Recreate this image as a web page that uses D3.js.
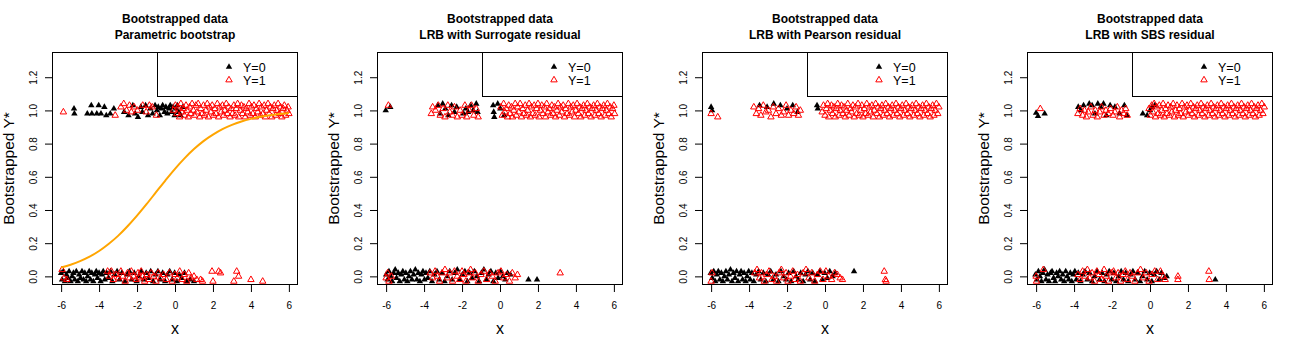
<!DOCTYPE html>
<html><head><meta charset="utf-8">
<script src="https://cdn.jsdelivr.net/npm/d3@7"></script>
<style>
body{margin:0;background:#fff}
svg{display:block}
text{font-family:"Liberation Sans",Arial,Helvetica,sans-serif}
</style>
</head><body>
<svg id="chart" width="1300" height="350"></svg>
<script>
// ---------- data ----------
const titleLine1 = "Bootstrapped data";
const panelSubtitles = ["Parametric bootstrap","LRB with Surrogate residual","LRB with Pearson residual","LRB with SBS residual"];
const xTicks = [-6,-4,-2,0,2,4,6];
const xTickLabels = ["-6","-4","-2","0","2","4","6"];
const yTicks = [0,0.2,0.4,0.6,0.8,1.0,1.2];
const yTickLabels = ["0.0","0.2","0.4","0.6","0.8","1.0","1.2"];
const legendLabels = ["Y=0","Y=1"];
const xLabel = "x";
const yLabel = "Bootstrapped Y*";

// fitted probability curve (panel 1)
const curveX = [-6,-5.5,-5,-4.5,-4,-3.5,-3,-2.5,-2,-1.5,-1,-0.5,0,0.5,1,1.5,2,2.5,3,3.5,4,4.5,5,5.5,6];
const curveY = [0.054,0.070,0.092,0.119,0.153,0.195,0.244,0.302,0.366,0.435,0.507,0.579,0.648,0.711,0.767,0.815,0.854,0.887,0.913,0.933,0.949,0.962,0.971,0.978,0.984];

// Panel 1: Parametric bootstrap  [x, jittered Y*]
const p1Y0 = [
[-5.32,1.01],[-5.30,0.98],[-4.62,0.98],[-4.41,1.03],[-4.38,0.98],[-4.12,0.98],[-4.02,1.03],[-3.90,0.98],[-3.72,1.02],[-3.62,0.97],[-3.41,0.98],[-3.22,1.01],
[-2.68,0.99],[-2.45,0.97],[-2.22,1.03],[-2.10,0.98],[-1.95,0.96],[-1.80,1.02],[-1.72,0.99],[-1.55,1.03],[-1.42,0.97],[-1.30,1.01],[-1.18,0.98],[-1.05,1.03],
[-0.95,1.00],[-0.88,1.02],[-0.80,0.97],[-0.72,1.01],[-0.65,1.03],[-0.55,0.99],[-0.48,1.02],[-0.40,0.98],[-0.32,1.01],[-0.25,1.03],[-0.18,0.99],[-0.10,1.02],[-0.02,0.97],[0.05,1.01],[0.12,1.03],[0.20,0.99],[0.30,0.97],[0.42,1.02],
[-6.00,0.02],[-5.95,-0.02],[-5.88,0.03],[-5.80,-0.03],[-5.72,0.01],[-5.65,-0.01],[-5.58,0.03],[-5.50,-0.03],[-5.42,0.00],[-5.35,0.02],[-5.28,-0.02],[-5.20,0.03],[-5.12,-0.03],[-5.05,0.01],[-4.98,-0.01],[-4.90,0.03],[-4.82,-0.02],[-4.75,0.02],[-4.68,-0.03],[-4.60,0.00],[-4.52,0.03],[-4.45,-0.02],[-4.38,0.02],[-4.30,-0.03],[-4.22,0.01],[-4.15,0.03],[-4.08,-0.01],[-4.00,0.02],[-3.92,-0.03],[-3.85,0.01],[-3.78,0.03],[-3.70,-0.02],[-3.60,0.02],[-3.50,-0.01],[-3.40,0.03],[-3.30,-0.03],[-3.18,0.01],[-3.05,0.03],[-2.92,-0.02],[-2.80,0.02],[-2.65,-0.03],[-2.52,0.01],[-2.40,0.03],[-2.28,-0.02],[-2.15,0.02],[-2.02,-0.03],[-1.90,0.00],[-1.78,0.03],[-1.65,-0.02],[-1.52,0.02],[-1.40,-0.01],[-1.28,0.03],[-1.15,-0.03],[-1.02,0.01],[-0.90,0.03],[-0.78,-0.02],[-0.65,0.02],[-0.52,-0.03],[-0.40,0.01],[-0.28,0.03],[-0.15,-0.02],[-0.02,0.02],[0.10,-0.03],[0.22,0.01],[0.35,-0.01],[0.50,0.02],[0.62,-0.03],[0.80,-0.02],[1.00,-0.03]
];
const p1Y1 = [
[-5.88,0.99],[-3.15,0.97],[-2.85,1.02],[-2.70,1.04],[-2.55,1.00],[-2.40,1.03],[-2.30,0.99],[-2.15,1.02],[-1.98,1.00],[-1.70,1.03],[-1.52,0.99],[-1.35,1.03],[-1.20,1.02],[-0.98,0.97],
[-0.08,1.00],[0.02,1.03],[0.10,0.98],[0.16,1.02],[0.24,0.96],[0.31,1.04],[0.37,0.99],[0.44,1.01],[0.50,0.97],[0.58,1.03],[0.63,1.00],[0.70,0.96],[0.77,1.02],[0.83,0.98],[0.90,1.04],[0.97,1.00],[1.03,0.97],[1.10,1.03],[1.16,0.99],[1.22,1.04],[1.30,0.96],[1.36,1.01],[1.43,0.98],[1.50,1.03],[1.56,0.97],[1.63,1.00],[1.70,1.04],[1.76,0.96],[1.83,1.02],[1.90,0.99],[1.96,1.03],[2.03,0.97],[2.10,1.01],[2.16,0.98],[2.23,1.04],[2.30,0.96],[2.36,1.02],[2.43,0.99],[2.50,1.03],[2.56,0.97],[2.63,1.00],[2.70,1.04],[2.76,0.98],[2.83,1.02],[2.90,0.96],[2.96,1.01],[3.03,0.98],[3.10,1.03],[3.16,0.97],[3.23,1.01],[3.30,1.04],[3.36,0.96],[3.43,1.00],[3.50,1.03],[3.56,0.98],[3.63,1.02],[3.70,0.96],[3.76,1.01],[3.83,0.99],[3.90,1.04],[3.96,0.97],[4.03,1.02],[4.10,0.98],[4.16,1.03],[4.23,0.96],[4.30,1.01],[4.36,0.99],[4.43,1.04],[4.50,0.97],[4.56,1.02],[4.63,0.98],[4.70,1.03],[4.76,0.96],[4.83,1.00],[4.90,1.04],[4.96,0.98],[5.03,1.02],[5.10,0.96],[5.16,1.01],[5.23,1.03],[5.30,0.97],[5.36,1.00],[5.43,1.04],[5.50,0.98],[5.56,1.02],[5.63,0.96],[5.70,1.01],[5.76,1.03],[5.83,0.97],[5.90,1.00],[5.96,1.02],[6.00,0.98],
[-5.95,0.04],[-5.85,-0.01],[-5.70,-0.02],
[-3.55,0.03],[-3.45,0.00],[-3.35,0.03],[-3.25,-0.02],[-3.10,0.01],[-2.98,-0.01],[-2.85,0.03],[-2.75,0.00],[-2.62,-0.03],[-2.50,0.02],[-2.40,-0.01],[-2.30,0.03],[-2.18,0.00],[-2.05,-0.02],[-1.95,0.02],[-1.88,-0.01],[-1.78,0.03],[-1.70,0.00],[-1.60,-0.03],[-1.48,0.01],[-1.38,-0.02],[-1.25,0.02],[-1.12,0.00],[-1.00,-0.03],[-0.88,0.02],[-0.75,-0.01],[-0.60,0.01],[-0.45,-0.02],[-0.30,0.02],[-0.15,-0.03],[0.00,0.01],[0.12,-0.01],[0.25,0.03],[0.38,-0.02],[0.50,0.01],[0.62,-0.03],[0.72,0.02],[0.85,-0.01],[1.00,0.00],[1.15,-0.02],[1.35,-0.02],[1.45,-0.03],
[1.95,0.03],[2.00,-0.03],[2.30,0.03],[2.40,0.02],[3.10,-0.03],[3.25,0.03],[3.35,0.00],[4.00,-0.02],[4.62,-0.03]
];

// Panel 2: LRB with Surrogate residual
const p2Y0 = [
[-6.02,1.00],[-5.78,1.02],[-3.28,1.03],[-3.15,0.98],[-3.02,1.04],[-2.88,1.01],[-2.72,0.97],[-2.55,1.03],[-2.40,0.99],[-2.28,1.02],[-1.92,0.98],[-1.80,1.01],[-1.68,0.99],[-1.55,1.03],[-1.42,1.00],[-1.25,1.04],[-1.18,0.99],[-0.36,1.03],[-0.33,0.99],[-0.30,0.96],[-0.12,1.04],[0.02,1.01],[0.22,0.97],
[-6.00,0.01],[-5.92,-0.02],[-5.85,0.03],[-5.76,0.00],[-5.68,-0.03],[-5.60,0.02],[-5.52,0.04],[-5.45,-0.01],[-5.36,0.02],[-5.28,-0.03],[-5.20,0.01],[-5.12,0.03],[-5.04,-0.02],[-4.96,0.02],[-4.88,-0.03],[-4.80,0.00],[-4.72,0.03],[-4.64,-0.02],[-4.55,0.01],[-4.46,0.04],[-4.38,-0.02],[-4.30,0.02],[-4.22,-0.03],[-4.14,0.01],[-4.06,0.03],[-3.98,-0.02],[-3.90,0.02],[-3.80,-0.01],[-3.70,0.03],[-3.58,-0.03],[-3.45,0.01],[-3.32,0.03],[-3.20,-0.02],[-3.05,0.02],[-2.92,-0.03],[-2.78,0.00],[-2.65,0.03],[-2.52,-0.02],[-2.38,0.02],[-2.25,0.04],[-2.12,-0.02],[-1.98,0.01],[-1.85,0.03],[-1.72,-0.03],[-1.60,0.02],[-1.48,-0.01],[-1.35,0.03],[-1.22,0.00],[-1.10,-0.03],[-0.98,0.02],[-0.85,0.04],[-0.72,-0.02],[-0.60,0.01],[-0.48,0.03],[-0.35,-0.03],[-0.22,0.02],[-0.10,-0.01],[0.02,0.03],[0.15,0.00],[0.28,-0.02],[0.40,0.02],[0.55,0.01],[1.50,-0.02],[1.95,-0.02]
];
const p2Y1 = [
[-5.88,1.03],[-3.62,0.98],[-3.55,1.02],[-3.40,1.00],[-3.25,1.03],[-3.15,0.97],[-3.00,1.01],[-2.90,0.96],[-2.75,1.03],[-2.65,0.99],[-2.50,0.97],[-2.40,1.02],[-2.25,0.96],[-2.10,1.00],[-2.00,0.97],[-1.85,1.03],[-1.75,0.96],[-1.62,1.00],[-1.50,1.03],[-1.38,0.97],[-1.25,1.01],[-1.15,0.96],
[0.05,1.02],[0.12,0.97],[0.19,1.04],[0.26,0.99],[0.33,1.01],[0.40,0.96],[0.46,1.03],[0.53,0.98],[0.60,1.02],[0.66,0.96],[0.73,1.00],[0.80,1.04],[0.86,0.97],[0.93,1.02],[1.00,0.99],[1.06,1.04],[1.13,0.96],[1.20,1.01],[1.26,0.98],[1.33,1.03],[1.40,0.97],[1.46,1.00],[1.53,1.04],[1.60,0.96],[1.66,1.02],[1.73,0.98],[1.80,1.03],[1.86,0.97],[1.93,1.01],[2.00,1.04],[2.06,0.96],[2.13,1.00],[2.20,1.03],[2.26,0.98],[2.33,1.02],[2.40,0.96],[2.46,1.04],[2.53,0.99],[2.60,1.01],[2.66,0.97],[2.73,1.03],[2.80,0.98],[2.86,1.02],[2.93,0.96],[3.00,1.00],[3.06,1.04],[3.13,0.97],[3.20,1.02],[3.26,0.99],[3.33,1.03],[3.40,0.96],[3.46,1.01],[3.53,0.98],[3.60,1.04],[3.66,0.97],[3.73,1.02],[3.80,0.99],[3.86,1.03],[3.93,0.96],[4.00,1.00],[4.06,1.04],[4.13,0.98],[4.20,1.02],[4.26,0.96],[4.33,1.01],[4.40,1.03],[4.46,0.97],[4.53,1.00],[4.60,1.04],[4.66,0.98],[4.73,1.02],[4.80,0.96],[4.86,1.01],[4.93,1.03],[5.00,0.97],[5.06,1.00],[5.13,1.04],[5.20,0.98],[5.26,1.02],[5.33,0.96],[5.40,1.01],[5.46,1.03],[5.53,0.97],[5.60,1.00],[5.66,1.04],[5.73,0.98],[5.80,1.02],[5.86,0.96],[5.93,1.01],[6.00,1.03],[6.04,0.98],
[-6.00,-0.01],[-5.92,0.02],[-5.85,-0.03],[-5.72,0.00],
[-3.68,0.02],[-3.55,-0.01],[-3.42,0.03],[-3.30,0.00],[-3.18,-0.03],[-3.05,0.02],[-2.90,0.04],[-2.78,-0.01],[-2.65,0.02],[-2.50,-0.03],[-2.40,0.03],[-2.25,0.00],[-2.12,-0.02],[-2.00,0.03],[-1.90,0.01],[-1.80,-0.03],[-1.68,0.02],[-1.55,0.04],[-1.45,-0.01],[-1.30,0.02],[-1.15,-0.03],[-1.00,0.01],[-0.85,0.03],[-0.70,-0.02],[-0.55,0.02],[-0.40,0.00],[-0.25,-0.03],[-0.10,0.02],[0.05,0.03],[0.20,-0.01],[0.35,0.01],[0.50,-0.03],[0.65,0.02],[0.80,-0.01],[0.92,0.01],[3.17,0.02]
];

// Panel 3: LRB with Pearson residual
const p3Y0 = [
[-6.00,1.02],[-5.95,1.00],[-3.45,1.03],[-3.05,1.02],[-2.70,1.04],[-2.35,1.03],[-2.00,1.01],[-1.70,1.03],[-1.45,0.99],[-0.42,1.03],[-0.38,1.01],
[-6.02,0.02],[-5.94,-0.01],[-5.86,0.03],[-5.78,-0.03],[-5.70,0.01],[-5.62,0.03],[-5.54,-0.02],[-5.46,0.02],[-5.38,-0.03],[-5.30,0.00],[-5.22,0.03],[-5.14,-0.02],[-5.06,0.01],[-4.98,0.04],[-4.90,-0.03],[-4.82,0.02],[-4.74,-0.01],[-4.66,0.03],[-4.58,-0.03],[-4.50,0.01],[-4.42,0.03],[-4.34,-0.02],[-4.26,0.02],[-4.18,-0.03],[-4.10,0.00],[-4.02,0.03],[-3.94,-0.02],[-3.85,0.02],[-3.75,-0.03],[-3.62,0.01],[-3.50,0.03],[-3.38,-0.02],[-3.25,0.02],[-3.12,-0.03],[-3.00,0.01],[-2.86,0.03],[-2.72,-0.02],[-2.58,0.01],[-2.45,-0.03],[-2.32,0.03],[-2.18,0.00],[-2.05,-0.02],[-1.92,0.02],[-1.78,-0.03],[-1.65,0.03],[-1.52,0.00],[-1.40,-0.02],[-1.28,0.02],[-1.15,-0.03],[-1.02,0.01],[-0.90,0.03],[-0.78,-0.02],[-0.65,0.02],[-0.52,-0.03],[-0.40,0.01],[-0.28,0.03],[-0.15,-0.02],[-0.02,0.02],[0.12,-0.01],[0.25,0.03],[0.40,0.00],[0.55,0.02],[1.53,0.03]
];
const p3Y1 = [
[-6.00,0.98],[-5.65,0.96],
[-3.75,1.02],[-3.62,0.98],[-3.50,1.01],[-3.38,0.97],[-3.25,1.03],[-3.12,0.99],[-2.98,1.00],[-2.85,0.96],[-2.72,1.02],[-2.58,0.98],[-2.45,1.01],[-2.30,0.97],[-2.18,0.99],[-2.05,1.03],[-1.92,0.97],[-1.80,1.00],[-1.65,0.98],[-1.52,1.02],[-1.40,0.97],[-1.30,1.00],
[-0.15,0.99],[-0.08,1.03],[0.00,0.97],[0.07,1.01],[0.14,1.04],[0.20,0.96],[0.27,1.00],[0.34,1.03],[0.40,0.98],[0.47,1.02],[0.54,0.96],[0.60,1.01],[0.67,1.04],[0.74,0.97],[0.80,1.00],[0.87,1.03],[0.94,0.98],[1.00,1.02],[1.07,0.96],[1.14,1.00],[1.20,1.04],[1.27,0.97],[1.34,1.01],[1.40,0.99],[1.47,1.03],[1.54,0.96],[1.60,1.02],[1.67,0.98],[1.74,1.04],[1.80,0.97],[1.87,1.00],[1.94,1.03],[2.00,0.96],[2.07,1.01],[2.14,0.98],[2.20,1.04],[2.27,0.97],[2.34,1.02],[2.40,0.99],[2.47,1.03],[2.54,0.96],[2.60,1.00],[2.67,1.04],[2.74,0.98],[2.80,1.02],[2.87,0.96],[2.94,1.01],[3.00,1.03],[3.07,0.97],[3.14,1.00],[3.20,1.04],[3.27,0.98],[3.34,1.02],[3.40,0.96],[3.47,1.01],[3.54,1.03],[3.60,0.97],[3.67,1.00],[3.74,1.04],[3.80,0.98],[3.87,1.02],[3.94,0.96],[4.00,1.01],[4.07,1.03],[4.14,0.97],[4.20,1.00],[4.27,1.04],[4.34,0.98],[4.40,1.02],[4.47,0.96],[4.54,1.01],[4.60,1.03],[4.67,0.97],[4.74,1.00],[4.80,1.04],[4.87,0.98],[4.94,1.02],[5.00,0.96],[5.07,1.01],[5.14,1.03],[5.20,0.97],[5.27,1.00],[5.34,1.04],[5.40,0.98],[5.47,1.02],[5.54,0.96],[5.60,1.01],[5.67,1.03],[5.74,0.97],[5.80,1.00],[5.87,1.04],[5.94,0.98],[6.00,1.02],
[-5.95,0.02],[-6.00,-0.03],
[-3.70,0.02],[-3.58,0.04],[-3.45,-0.01],[-3.35,0.02],[-3.20,-0.03],[-3.08,0.01],[-2.95,0.03],[-2.80,-0.02],[-2.68,0.00],[-2.55,-0.03],[-2.42,0.02],[-2.30,0.04],[-2.18,-0.01],[-2.05,0.02],[-1.95,-0.03],[-1.82,0.00],[-1.70,0.03],[-1.58,-0.02],[-1.45,0.01],[-1.30,-0.03],[-1.15,0.02],[-1.00,0.04],[-0.85,-0.01],[-0.70,0.02],[-0.55,-0.03],[-0.40,0.01],[-0.25,0.03],[-0.10,-0.02],[0.05,0.03],[0.20,0.00],[0.35,-0.02],[0.50,0.02],[0.65,0.01],[0.80,-0.01],[0.92,-0.02],
[3.12,0.03],[3.18,-0.02],[3.22,-0.03]
];

// Panel 4: LRB with SBS residual
const p4Y0 = [
[-6.00,0.985],[-5.90,0.965],[-5.55,0.98],[-3.78,1.02],[-3.65,1.00],[-3.50,1.03],[-3.20,1.04],[-3.05,1.03],[-2.90,0.98],[-2.75,1.04],[-2.60,1.02],[-2.45,1.04],[-2.30,0.97],[-2.10,1.03],[-1.85,1.02],[-1.60,0.98],[-1.35,1.03],[-1.22,0.97],[-0.38,0.98],[-0.15,0.97],[0.00,1.00],[0.10,1.02],[0.25,1.03],
[-6.04,0.01],[-5.96,-0.02],[-5.88,0.03],[-5.80,0.00],[-5.72,-0.03],[-5.64,0.02],[-5.56,0.04],[-5.48,-0.02],[-5.40,0.01],[-5.32,-0.03],[-5.24,0.02],[-5.16,0.03],[-5.08,-0.01],[-5.00,-0.03],[-4.92,0.02],[-4.84,0.00],[-4.76,0.03],[-4.68,-0.02],[-4.60,0.01],[-4.52,-0.03],[-4.44,0.03],[-4.36,0.00],[-4.28,-0.02],[-4.20,0.02],[-4.12,-0.03],[-4.04,0.01],[-3.96,0.03],[-3.88,-0.02],[-3.78,0.02],[-3.66,-0.03],[-3.54,0.01],[-3.42,0.03],[-3.30,-0.02],[-3.18,0.02],[-3.05,-0.03],[-2.92,0.00],[-2.78,0.03],[-2.65,-0.02],[-2.52,0.02],[-2.40,-0.03],[-2.28,0.01],[-2.15,0.03],[-2.02,-0.02],[-1.90,0.02],[-1.78,-0.03],[-1.65,0.00],[-1.52,0.03],[-1.40,-0.02],[-1.28,0.02],[-1.15,-0.03],[-1.02,0.01],[-0.90,0.03],[-0.78,-0.02],[-0.65,0.02],[-0.52,-0.03],[-0.40,0.00],[-0.28,0.03],[-0.15,-0.02],[-0.02,0.02],[0.10,-0.03],[0.22,0.01],[0.35,0.03],[0.48,-0.02],[0.60,0.02],[0.75,-0.01],[0.88,0.00],[3.44,-0.02]
];
const p4Y1 = [
[-5.78,1.01],
[-3.80,0.98],[-3.68,1.01],[-3.55,0.97],[-3.45,1.00],[-3.35,0.96],[-3.25,0.99],[-3.12,1.02],[-3.00,0.97],[-2.88,1.00],[-2.78,0.96],[-2.65,0.99],[-2.55,1.02],[-2.42,0.97],[-2.32,1.00],[-2.20,0.98],[-2.08,1.01],[-1.95,0.97],[-1.85,0.99],[-1.72,1.02],[-1.60,0.96],[-1.50,1.00],[-1.38,0.98],[-1.28,1.01],[-1.20,0.97],
[-0.05,1.01],[0.02,0.97],[0.09,1.03],[0.15,0.99],[0.22,1.04],[0.29,0.96],[0.35,1.02],[0.42,0.98],[0.49,1.03],[0.55,0.97],[0.62,1.00],[0.69,1.04],[0.75,0.96],[0.82,1.01],[0.89,0.98],[0.95,1.03],[1.02,0.97],[1.09,1.02],[1.15,0.99],[1.22,1.04],[1.29,0.96],[1.35,1.00],[1.42,1.03],[1.49,0.97],[1.55,1.01],[1.62,0.98],[1.69,1.04],[1.75,0.96],[1.82,1.02],[1.89,0.99],[1.95,1.03],[2.02,0.97],[2.09,1.00],[2.15,1.04],[2.22,0.98],[2.29,1.02],[2.35,0.96],[2.42,1.01],[2.49,1.03],[2.55,0.97],[2.62,1.00],[2.69,1.04],[2.75,0.98],[2.82,1.02],[2.89,0.96],[2.95,1.01],[3.02,1.03],[3.09,0.97],[3.15,1.00],[3.22,1.04],[3.29,0.98],[3.35,1.02],[3.42,0.96],[3.49,1.01],[3.55,1.03],[3.62,0.97],[3.69,1.00],[3.75,1.04],[3.82,0.98],[3.89,1.02],[3.95,0.96],[4.02,1.01],[4.09,1.03],[4.15,0.97],[4.22,1.00],[4.29,1.04],[4.35,0.98],[4.42,1.02],[4.49,0.96],[4.55,1.01],[4.62,1.03],[4.69,0.97],[4.75,1.00],[4.82,1.04],[4.89,0.98],[4.95,1.02],[5.02,0.96],[5.09,1.01],[5.15,1.03],[5.22,0.97],[5.29,1.00],[5.35,1.04],[5.42,0.98],[5.49,1.02],[5.55,0.96],[5.62,1.01],[5.69,1.03],[5.75,0.97],[5.82,1.00],[5.89,1.04],[5.95,0.98],[6.02,1.02],
[-6.00,0.00],[-5.98,-0.03],[-5.62,0.04],
[-3.80,0.01],[-3.68,-0.02],[-3.55,0.03],[-3.42,0.00],[-3.30,0.04],[-3.18,-0.01],[-3.05,0.02],[-2.92,-0.03],[-2.80,0.03],[-2.68,0.01],[-2.55,-0.02],[-2.42,0.04],[-2.30,0.00],[-2.18,-0.03],[-2.05,0.02],[-1.92,0.03],[-1.80,-0.01],[-1.68,0.02],[-1.55,-0.03],[-1.42,0.01],[-1.30,0.03],[-1.18,-0.02],[-1.05,0.02],[-0.92,0.00],[-0.80,-0.03],[-0.65,0.02],[-0.50,0.04],[-0.35,-0.01],[-0.20,0.02],[-0.05,-0.03],[0.10,0.01],[0.25,0.03],[0.40,-0.02],[0.55,0.03],[0.70,0.00],[0.80,-0.02],
[1.47,0.00],[1.47,-0.02],[3.10,0.03],[3.12,-0.02]
];

// ---------- drawing ----------
const panels = [
  {sub: panelSubtitles[0], y0: p1Y0, y1: p1Y1, curve: true},
  {sub: panelSubtitles[1], y0: p2Y0, y1: p2Y1, curve: false},
  {sub: panelSubtitles[2], y0: p3Y0, y1: p3Y1, curve: false},
  {sub: panelSubtitles[3], y0: p4Y0, y1: p4Y1, curve: false}
];

const svg = d3.select("#chart");
const PW = 325;
const box = {l: 52, r: 298, t: 52, b: 285};
const x = d3.scaleLinear().domain([-6.48, 6.48]).range([box.l, box.r]);
const y = d3.scaleLinear().domain([-0.052, 1.352]).range([box.b, box.t]);
const tri = d3.symbol().type(d3.symbolTriangle).size(18);

svg.append("defs").append("clipPath").attr("id","plotclip")
  .append("rect").attr("x",box.l).attr("y",box.t).attr("width",box.r-box.l).attr("height",box.b-box.t);

panels.forEach((p, i) => {
  const g = svg.append("g").attr("transform", `translate(${i*PW},0)`);

  // titles
  g.append("text").attr("x", (box.l+box.r)/2).attr("y", 23).attr("text-anchor","middle")
    .attr("font-size", 12).attr("font-weight","bold").text(titleLine1);
  g.append("text").attr("x", (box.l+box.r)/2).attr("y", 39).attr("text-anchor","middle")
    .attr("font-size", 12).attr("font-weight","bold").text(p.sub);

  // points
  const pg = g.append("g").attr("clip-path","url(#plotclip)");
  pg.selectAll("path.b").data(p.y0).join("path").attr("class","b")
    .attr("d", tri).attr("transform", d => `translate(${x(d[0])},${y(d[1])})`)
    .attr("fill","#000");
  pg.selectAll("path.r").data(p.y1).join("path").attr("class","r")
    .attr("d", tri).attr("transform", d => `translate(${x(d[0])},${y(d[1])})`)
    .attr("fill","none").attr("stroke","#ff0000").attr("stroke-width",1);

  if (p.curve) {
    const pts = curveX.map((v, k) => [v, curveY[k]]);
    pg.append("path").datum(pts)
      .attr("d", d3.line().x(d => x(d[0])).y(d => y(d[1])).curve(d3.curveMonotoneX))
      .attr("fill","none").attr("stroke","#FFA500").attr("stroke-width",2);
  }

  // axes
  const xa = g.append("g").attr("transform", `translate(0,${box.b})`)
    .call(d3.axisBottom(x).tickValues(xTicks).tickFormat((d,k) => xTickLabels[k]).tickSize(7).tickPadding(3));
  xa.select(".domain").remove();
  xa.selectAll("text").attr("font-size",10).attr("font-family",null).attr("fill","#000").attr("dy",null).attr("y",24);
  xa.selectAll("line").attr("stroke","#000");

  const ya = g.append("g").attr("transform", `translate(${box.l},0)`)
    .call(d3.axisLeft(y).tickValues(yTicks).tickFormat((d,k) => yTickLabels[k]).tickSize(7));
  ya.select(".domain").remove();
  ya.selectAll("line").attr("stroke","#000");
  ya.selectAll("text").attr("font-size",10).attr("font-family",null).attr("fill","#000")
    .attr("x",null).attr("dy",null).attr("text-anchor","middle")
    .attr("transform","translate(-15,0) rotate(-90)");

  // box
  g.append("rect").attr("x",box.l+0.5).attr("y",box.t+0.5).attr("width",box.r-box.l-1).attr("height",box.b-box.t-1)
    .attr("fill","none").attr("stroke","#000").attr("stroke-width",1);

  // axis labels
  g.append("text").attr("x",(box.l+box.r)/2).attr("y",334).attr("text-anchor","middle").attr("font-size",16).text(xLabel);
  g.append("text").attr("transform",`translate(14,${(box.t+box.b)/2}) rotate(-90)`).attr("text-anchor","middle").attr("font-size",15.5).text(yLabel);

  // legend
  const lg = g.append("g");
  lg.append("rect").attr("x",157.5).attr("y",box.t+0.5).attr("width",box.r-157.5-0.5).attr("height",96-box.t)
    .attr("fill","#fff").attr("stroke","#000").attr("stroke-width",1);
  lg.append("path").attr("d",tri).attr("transform","translate(229,67)").attr("fill","#000");
  lg.append("path").attr("d",tri).attr("transform","translate(229,80)").attr("fill","none").attr("stroke","#ff0000");
  lg.append("text").attr("x",243).attr("y",71.5).attr("font-size",12.5).text(legendLabels[0]);
  lg.append("text").attr("x",243).attr("y",84.5).attr("font-size",12.5).text(legendLabels[1]);
});
</script>
</body></html>
